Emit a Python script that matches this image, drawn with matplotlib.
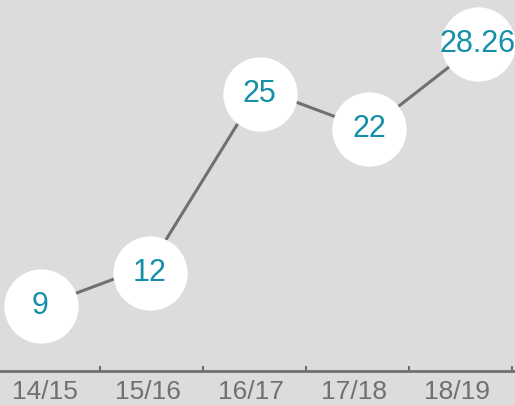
import matplotlib
matplotlib.use('Agg')
import matplotlib.pyplot as plt
import matplotlib.transforms as mtransforms

seasons = ['14/15', '15/16', '16/17', '17/18', '18/19']
values = [9, 12, 25, 22, 28.26]
labels = ['9', '12', '25', '22', '28.26']

# small nudge (pixels) of some bubbles, as in the original
bubble_dy = [0, -7, -6, 0, 0]

bg = '#dcdcdc'
grey = '#707070'
teal = '#1590a8'

plt.rcParams['font.family'] = ['Liberation Sans', 'DejaVu Sans']

fig = plt.figure(figsize=(5.15, 4.05), dpi=100, facecolor=bg)

# category axis along the bottom
axb = fig.add_axes([0, 34 / 405, 1, 0.01])
axb.set_xlim(3 / 103, 5 + 3 / 103)
axb.set_ylim(0, 1)
axb.patch.set_visible(False)
for s in ['top', 'left', 'right']:
    axb.spines[s].set_visible(False)
axb.spines['bottom'].set_color(grey)
axb.spines['bottom'].set_linewidth(2)
axb.set_yticks([])
axb.set_xticks(range(1, len(seasons) + 1))
axb.set_xticks([i + 0.47 for i in range(len(seasons))], minor=True)
axb.set_xticklabels(seasons, minor=True)
axb.tick_params(axis='x', which='major', direction='in', length=3.5, width=1.5,
                color=grey, labelbottom=False)
axb.tick_params(axis='x', which='minor', length=0, pad=6.5, labelsize=19,
                labelcolor=grey)

# line with bubbles
ax = fig.add_axes([0, 0, 1, 1])
ax.set_xlim(-40.5 / 109.5, (515 - 40.5) / 109.5)
ax.set_ylim(1.77, 31.49)
ax.axis('off')
xs = list(range(len(values)))
ax.plot(xs, values, color=grey, lw=2.2, zorder=1)
for x, v, t, dy in zip(xs, values, labels, bubble_dy):
    tr = mtransforms.offset_copy(ax.transData, fig=fig, x=-1 if len(t) > 2 else 0,
                                 y=dy, units='dots')
    ax.plot([x], [v], 'o', ms=53.5, color='white', mec='none', transform=tr,
            zorder=2, clip_on=False)
    ax.text(x, v, t, transform=tr, ha='center', va='center', fontsize=22,
            color=teal, zorder=3)

fig.savefig('out.png', dpi=100, facecolor=bg)
